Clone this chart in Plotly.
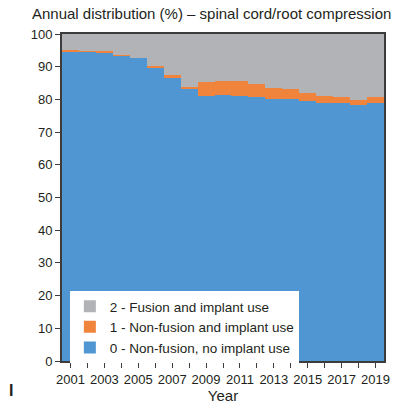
import plotly.graph_objects as go

years = list(range(2001, 2020))
# Cumulative top of "0 - Non-fusion, no implant use" (%)
non_fusion_no_implant = [94.7, 94.5, 94.2, 93.3, 92.7, 89.8, 86.8, 83.2, 81.1, 81.3,
                         81.0, 80.7, 80.1, 80.1, 79.5, 78.9, 78.9, 78.3, 78.9]
# Share of "1 - Non-fusion and implant use" (%)
non_fusion_implant = [0.4, 0.3, 0.6, 0.3, 0.1, 0.4, 0.6, 0.6, 4.2, 4.3,
                      4.6, 4.0, 3.4, 3.1, 2.5, 2.1, 1.8, 1.5, 1.8]
# Share of "2 - Fusion and implant use" (%)
fusion_implant = [round(100 - a - b, 1) for a, b in zip(non_fusion_no_implant, non_fusion_implant)]

x_tick_labels = [str(y) if (y - 2001) % 2 == 0 else "" for y in years]
y_ticks = list(range(0, 101, 10))

FONT = "Liberation Sans, Arial, sans-serif"
TXT = "#231f20"
AX = "#3c3c3c"

L, R, T, B = 62, 8, 34, 48
W, H = 398, 409
PW = W - L - R
PH = H - T - B

fig = go.Figure()
fig.add_trace(go.Bar(x=years, y=non_fusion_no_implant, name="0 - Non-fusion, no implant use",
                     marker=dict(color="#5096d2", line=dict(width=0))))
fig.add_trace(go.Bar(x=years, y=non_fusion_implant, name="1 - Non-fusion and implant use",
                     marker=dict(color="#f1843c", line=dict(width=0))))
fig.add_trace(go.Bar(x=years, y=fusion_implant, name="2 - Fusion and implant use",
                     marker=dict(color="#b2b3b6", line=dict(width=0))))

fig.update_layout(
    barmode="stack", bargap=0,
    width=W, height=H,
    margin=dict(l=L, r=R, t=T, b=B),
    paper_bgcolor="white", plot_bgcolor="white",
    font=dict(family=FONT, size=13, color=TXT),
    showlegend=True,
    legend=dict(x=(70 - L) / PW, y=(361 - 291) / PH, xanchor="left", yanchor="top",
                traceorder="reversed", bgcolor="white", borderwidth=0,
                font=dict(size=13.5, color=TXT), itemsizing="constant",
                tracegroupgap=0),
    title=dict(text="Annual distribution (%) \u2013 spinal cord/root compression",
               xref="container", yref="container", x=32 / W, y=1 - 13.5 / H,
               xanchor="left", yanchor="middle",
               font=dict(size=15, color=TXT, family=FONT)),
    xaxis=dict(range=[2000.5, 2019.5], tickmode="array", tickvals=years, ticktext=x_tick_labels,
               ticks="outside", ticklen=5, tickcolor=AX, tickwidth=1,
               showline=True, linecolor=AX, linewidth=2, mirror=True,
               showgrid=False, zeroline=False,
               title=dict(text="Year", font=dict(size=15, color=TXT), standoff=4),
               tickfont=dict(size=13, color=TXT)),
    yaxis=dict(range=[0, 100], tickmode="array", tickvals=y_ticks,
               ticks="outside", ticklen=5, tickcolor=AX, tickwidth=1,
               showline=True, linecolor=AX, linewidth=2, mirror=True,
               showgrid=False, zeroline=False,
               tickfont=dict(size=13, color=TXT)),
)

fig.add_annotation(text="<b>I</b>", xref="paper", yref="paper",
                   x=(10 - L) / PW, y=-(390 - 361) / PH,
                   xanchor="center", yanchor="middle", showarrow=False,
                   font=dict(size=16, color=TXT, family=FONT))

fig.write_html("out.html", config={"displayModeBar": False},
               post_script="document.body.style.margin='0';document.body.style.overflow='hidden';")
